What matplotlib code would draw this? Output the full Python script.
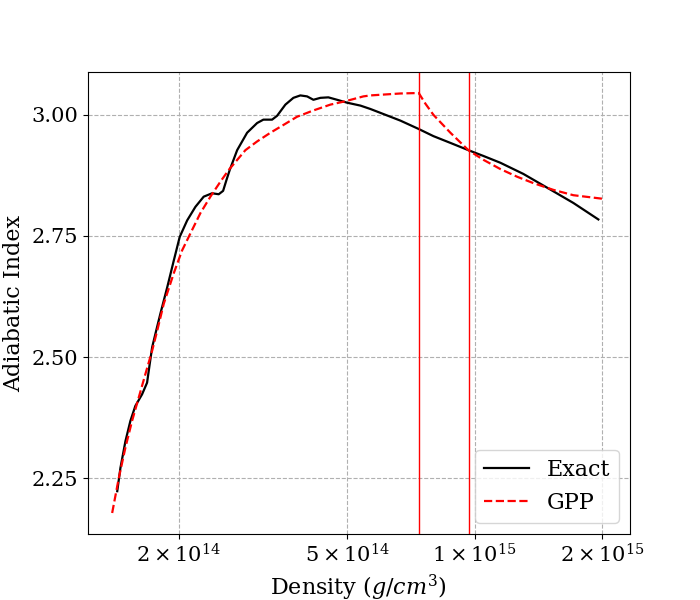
import numpy as np
import matplotlib
matplotlib.use('Agg')
import matplotlib.pyplot as plt
from matplotlib.ticker import FormatStrFormatter, NullLocator

plt.rcParams['font.family'] = 'DejaVu Serif'
plt.rcParams['mathtext.fontset'] = 'dejavuserif'
plt.rcParams['font.size'] = 16
plt.rcParams['xtick.labelsize'] = 15
plt.rcParams['ytick.labelsize'] = 15

# exact adiabatic index
rho_exact = [1.43e14, 1.455e14, 1.495e14, 1.536e14, 1.578e14, 1.637e14, 1.682e14, 1.706e14,
             1.729e14, 1.767e14, 1.809e14, 1.877e14, 1.945e14, 2.009e14, 2.092e14, 2.188e14,
             2.289e14, 2.396e14, 2.484e14, 2.544e14, 2.590e14, 2.637e14, 2.746e14, 2.899e14,
             3.061e14, 3.167e14, 3.321e14, 3.413e14, 3.570e14, 3.729e14, 3.873e14, 4.018e14,
             4.158e14, 4.319e14, 4.511e14, 4.730e14, 4.994e14, 5.370e14, 5.670e14, 6.322e14,
             6.675e14, 7.362e14, 7.988e14, 8.762e14, 9.663e14, 1.049e15, 1.150e15, 1.303e15,
             1.535e15, 1.711e15, 1.960e15]
gamma_exact = [2.223, 2.271, 2.326, 2.368, 2.399, 2.423, 2.447, 2.485,
               2.520, 2.554, 2.590, 2.644, 2.699, 2.748, 2.782, 2.810,
               2.831, 2.838, 2.836, 2.843, 2.865, 2.886, 2.927, 2.963,
               2.983, 2.990, 2.990, 2.998, 3.021, 3.035, 3.040, 3.038,
               3.031, 3.035, 3.036, 3.031, 3.025, 3.019, 3.012, 2.996,
               2.988, 2.971, 2.956, 2.942, 2.927, 2.915, 2.901, 2.878,
               2.842, 2.818, 2.784]

# GPP fit
rho_gpp = [1.391e14, 1.442e14, 1.495e14, 1.550e14, 1.607e14, 1.667e14, 1.729e14, 1.777e14,
           1.842e14, 1.945e14, 2.035e14, 2.129e14, 2.248e14, 2.374e14, 2.507e14, 2.622e14,
           2.872e14, 3.061e14, 3.291e14, 3.532e14, 3.804e14, 4.158e14, 4.560e14, 4.948e14,
           5.458e14, 5.670e14, 6.675e14, 7.375e14, 7.648e14, 7.988e14, 8.762e14, 9.663e14,
           1.049e15, 1.150e15, 1.261e15, 1.376e15, 1.535e15, 1.711e15, 2.036e15]
gamma_gpp = [2.178, 2.250, 2.313, 2.368, 2.416, 2.465, 2.513, 2.554,
             2.610, 2.673, 2.720, 2.755, 2.797, 2.831, 2.862, 2.886,
             2.927, 2.945, 2.963, 2.979, 2.996, 3.009, 3.021, 3.028,
             3.038, 3.040, 3.044, 3.045, 3.023, 3.000, 2.963, 2.927,
             2.907, 2.888, 2.872, 2.859, 2.845, 2.834, 2.826]

# dividing densities
rho_div = [7.375e14, 9.68e14]

xtick_vals = [2e14, 5e14, 1e15, 2e15]
xtick_labels = [r'$2\times10^{14}$', r'$5\times10^{14}$', r'$1\times10^{15}$', r'$2\times10^{15}$']
ytick_vals = [2.25, 2.50, 2.75, 3.00]

fig = plt.figure(figsize=(7, 6), dpi=100)
plt.plot(rho_exact, gamma_exact, 'k-', lw=1.6, label='Exact')
plt.plot(rho_gpp, gamma_gpp, 'r--', lw=1.6, label='GPP')
for r in rho_div:
    plt.axvline(r, color='r', lw=1)
plt.xscale('log')
ax = plt.gca()
ax.xaxis.set_minor_locator(NullLocator())
plt.xticks(xtick_vals, xtick_labels)
plt.yticks(ytick_vals)
ax.yaxis.set_major_formatter(FormatStrFormatter('%.2f'))
plt.grid(ls='--')
plt.xlabel('Density ($g/cm^3$)')
plt.ylabel('Adiabatic Index')
plt.legend(loc='lower right')
plt.savefig('out.png')
